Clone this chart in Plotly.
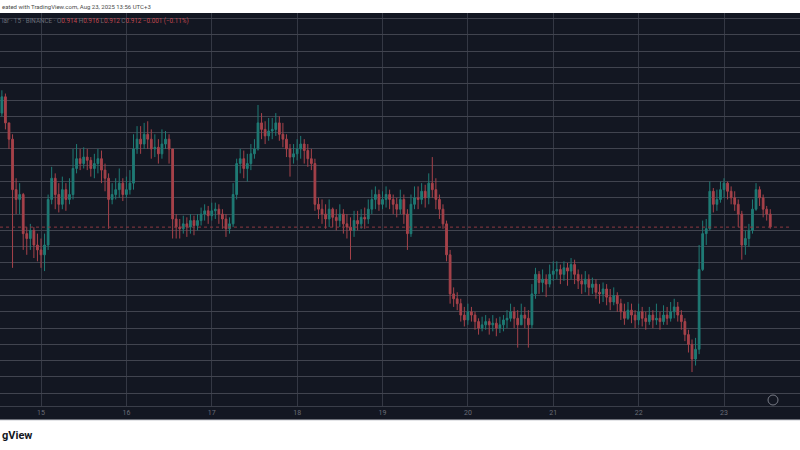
import pandas as pd
import plotly.graph_objects as go

# Hourly candles, Aug 14 13:00 -> Aug 23 13:00 (UTC+3)
first_open = 0.982
closes = [
    0.992, 0.976, 0.966, 0.935, 0.929, 0.932, 0.908, 0.905, 0.910, 0.901,
    0.898, 0.895, 0.901, 0.929, 0.942, 0.932, 0.926, 0.935, 0.929, 0.932,
    0.948, 0.954, 0.951, 0.955, 0.953, 0.948, 0.951, 0.954, 0.947, 0.942,
    0.929, 0.932, 0.935, 0.939, 0.932, 0.935, 0.939, 0.960, 0.966, 0.963,
    0.969, 0.966, 0.960, 0.961, 0.957, 0.963, 0.966, 0.960, 0.917, 0.912,
    0.911, 0.914, 0.912, 0.916, 0.913, 0.916, 0.920, 0.922, 0.919, 0.922,
    0.923, 0.920, 0.917, 0.911, 0.914, 0.932, 0.951, 0.954, 0.948, 0.951,
    0.957, 0.960, 0.976, 0.972, 0.968, 0.971, 0.972, 0.976, 0.969, 0.966,
    0.960, 0.955, 0.957, 0.960, 0.963, 0.959, 0.954, 0.951, 0.926, 0.923,
    0.920, 0.917, 0.923, 0.918, 0.916, 0.920, 0.914, 0.912, 0.910, 0.916,
    0.914, 0.918, 0.917, 0.923, 0.929, 0.932, 0.926, 0.929, 0.932, 0.929,
    0.926, 0.923, 0.929, 0.920, 0.908, 0.926, 0.930, 0.929, 0.934, 0.930,
    0.939, 0.935, 0.929, 0.923, 0.914, 0.895, 0.871, 0.868, 0.865, 0.858,
    0.855, 0.860, 0.858, 0.854, 0.850, 0.852, 0.854, 0.852, 0.853, 0.850,
    0.852, 0.855, 0.856, 0.860, 0.856, 0.852, 0.858, 0.856, 0.852, 0.871,
    0.883, 0.878, 0.880, 0.877, 0.883, 0.885, 0.886, 0.883, 0.887, 0.885,
    0.889, 0.883, 0.879, 0.877, 0.880, 0.875, 0.877, 0.872, 0.871, 0.874,
    0.869, 0.866, 0.870, 0.865, 0.860, 0.856, 0.861, 0.858, 0.855, 0.860,
    0.856, 0.854, 0.858, 0.855, 0.856, 0.854, 0.858, 0.856, 0.860, 0.863,
    0.858, 0.854, 0.846, 0.840, 0.831, 0.837, 0.886, 0.908, 0.911, 0.934,
    0.926, 0.929, 0.935, 0.939, 0.934, 0.930, 0.926, 0.920, 0.901, 0.905,
    0.910, 0.923, 0.935, 0.930, 0.923, 0.920, 0.912,
]
highs = [
    0.996, 0.994, 0.976, 0.969, 0.942, 0.939, 0.933, 0.912, 0.914, 0.912,
    0.908, 0.905, 0.908, 0.932, 0.949, 0.945, 0.939, 0.943, 0.939, 0.942,
    0.960, 0.963, 0.960, 0.961, 0.960, 0.955, 0.957, 0.960, 0.959, 0.951,
    0.945, 0.939, 0.942, 0.948, 0.942, 0.943, 0.947, 0.969, 0.974, 0.974,
    0.976, 0.977, 0.972, 0.969, 0.966, 0.972, 0.971, 0.969, 0.960, 0.920,
    0.917, 0.919, 0.918, 0.920, 0.919, 0.920, 0.924, 0.926, 0.925, 0.927,
    0.927, 0.926, 0.923, 0.920, 0.918, 0.939, 0.954, 0.960, 0.959, 0.957,
    0.963, 0.966, 0.987, 0.982, 0.977, 0.979, 0.979, 0.982, 0.980, 0.976,
    0.969, 0.963, 0.963, 0.966, 0.968, 0.966, 0.963, 0.960, 0.954, 0.930,
    0.929, 0.926, 0.929, 0.924, 0.923, 0.926, 0.923, 0.920, 0.918, 0.922,
    0.922, 0.923, 0.924, 0.929, 0.935, 0.937, 0.935, 0.934, 0.937, 0.935,
    0.932, 0.930, 0.935, 0.932, 0.923, 0.932, 0.937, 0.937, 0.939, 0.938,
    0.945, 0.955, 0.942, 0.932, 0.926, 0.916, 0.898, 0.875, 0.872, 0.868,
    0.863, 0.865, 0.863, 0.860, 0.856, 0.857, 0.858, 0.856, 0.858, 0.856,
    0.857, 0.858, 0.861, 0.865, 0.863, 0.861, 0.865, 0.863, 0.861, 0.877,
    0.887, 0.885, 0.886, 0.883, 0.889, 0.891, 0.891, 0.889, 0.891, 0.890,
    0.893, 0.892, 0.886, 0.883, 0.885, 0.883, 0.881, 0.880, 0.877, 0.878,
    0.877, 0.874, 0.875, 0.872, 0.868, 0.865, 0.866, 0.865, 0.861, 0.865,
    0.863, 0.860, 0.863, 0.861, 0.865, 0.860, 0.864, 0.863, 0.866, 0.868,
    0.866, 0.861, 0.856, 0.849, 0.843, 0.844, 0.901, 0.916, 0.917, 0.940,
    0.936, 0.935, 0.940, 0.942, 0.940, 0.937, 0.934, 0.929, 0.922, 0.910,
    0.914, 0.929, 0.939, 0.937, 0.932, 0.925, 0.923,
]
lows = [
    0.980, 0.972, 0.960, 0.887, 0.920, 0.920, 0.898, 0.895, 0.898, 0.893,
    0.891, 0.887, 0.885, 0.898, 0.926, 0.923, 0.921, 0.923, 0.922, 0.926,
    0.929, 0.945, 0.947, 0.948, 0.947, 0.943, 0.942, 0.945, 0.939, 0.934,
    0.911, 0.926, 0.929, 0.930, 0.928, 0.930, 0.932, 0.935, 0.957, 0.957,
    0.960, 0.960, 0.954, 0.955, 0.951, 0.954, 0.960, 0.951, 0.905, 0.905,
    0.905, 0.908, 0.906, 0.908, 0.907, 0.910, 0.913, 0.916, 0.914, 0.916,
    0.917, 0.914, 0.911, 0.906, 0.908, 0.912, 0.929, 0.945, 0.942, 0.940,
    0.947, 0.954, 0.959, 0.966, 0.963, 0.965, 0.966, 0.968, 0.965, 0.961,
    0.955, 0.943, 0.951, 0.953, 0.954, 0.951, 0.949, 0.947, 0.922, 0.917,
    0.914, 0.911, 0.912, 0.912, 0.910, 0.912, 0.908, 0.905, 0.892, 0.906,
    0.910, 0.911, 0.911, 0.914, 0.920, 0.923, 0.922, 0.923, 0.924, 0.923,
    0.920, 0.918, 0.920, 0.914, 0.898, 0.906, 0.923, 0.923, 0.926, 0.924,
    0.926, 0.930, 0.923, 0.917, 0.911, 0.891, 0.865, 0.863, 0.861, 0.854,
    0.851, 0.852, 0.854, 0.849, 0.846, 0.848, 0.849, 0.846, 0.848, 0.845,
    0.847, 0.848, 0.850, 0.854, 0.850, 0.838, 0.852, 0.850, 0.838, 0.850,
    0.868, 0.871, 0.872, 0.869, 0.875, 0.879, 0.880, 0.877, 0.879, 0.876,
    0.880, 0.877, 0.874, 0.871, 0.872, 0.870, 0.871, 0.868, 0.865, 0.866,
    0.864, 0.861, 0.864, 0.860, 0.855, 0.852, 0.855, 0.853, 0.850, 0.852,
    0.851, 0.849, 0.852, 0.850, 0.852, 0.849, 0.852, 0.852, 0.854, 0.856,
    0.854, 0.849, 0.842, 0.835, 0.823, 0.827, 0.834, 0.885, 0.901, 0.910,
    0.921, 0.922, 0.927, 0.930, 0.929, 0.926, 0.922, 0.912, 0.892, 0.895,
    0.900, 0.908, 0.922, 0.925, 0.918, 0.916, 0.911,
]
opens = [first_open] + closes[:-1]
times = pd.date_range("2025-08-14 13:00", periods=len(closes), freq="h")

day_ticks = ["2025-08-%02d" % d for d in range(15, 24)]
day_labels = ["15", "16", "17", "18", "19", "20", "21", "22", "23"]

legend_ohlc = ["0.914", "0.916", "0.912", "0.912"]
legend_change = "−0.001 (−0.11%)"

BG = "#131722"
UP = "#1f7b75"
DOWN = "#a6424a"
GRID_H = "#41444f"
GRID_V = "#343844"

fig = go.Figure(go.Candlestick(
    x=times, open=opens, high=highs, low=lows, close=closes,
    increasing=dict(line=dict(color=UP, width=1), fillcolor=UP),
    decreasing=dict(line=dict(color=DOWN, width=1), fillcolor=DOWN),
    whiskerwidth=0, hoverinfo="skip", showlegend=False,
))

PH = 393.0  # plot height in px

def py(px):
    return (406.0 - px) / PH

red = "#c2474f"
legend_txt = (
    "lar · 15 · BINANCE · O<span style='color:%s'>%s</span> H<span style='color:%s'>%s</span> "
    "L<span style='color:%s'>%s</span> C<span style='color:%s'>%s %s</span>"
    % (red, legend_ohlc[0], red, legend_ohlc[1], red, legend_ohlc[2], red, legend_ohlc[3], legend_change)
)

fig.update_layout(
    width=800, height=450,
    margin=dict(l=0, r=0, t=13, b=44),
    paper_bgcolor=BG, plot_bgcolor=BG,
    showlegend=False,
    hovermode=False,
    font=dict(family="Roboto, sans-serif"),
    xaxis=dict(
        type="date",
        range=["2025-08-14 12:28:30", "2025-08-23 21:21:36"],
        rangeslider=dict(visible=False),
        tickvals=day_ticks, ticktext=day_labels,
        showgrid=True, gridcolor=GRID_V, gridwidth=1,
        ticks="", tickfont=dict(size=7, color="#6a6d78"),
        showline=True, linecolor="#3a3e49", linewidth=1,
        zeroline=False, fixedrange=True,
    ),
    yaxis=dict(
        range=[0.80217, 1.04346], dtick=0.01, tick0=0,
        showticklabels=False, showgrid=True, gridcolor=GRID_H, gridwidth=1,
        zeroline=False, ticks="", fixedrange=True,
    ),
    shapes=[
        dict(type="line", xref="paper", x0=0, x1=0.99, yref="y",
             y0=closes[-1], y1=closes[-1],
             line=dict(color="#8f3a42", width=1, dash="dot"), layer="above"),
        dict(type="rect", xref="paper", x0=0, x1=1, yref="paper",
             y0=py(13), y1=py(-2), fillcolor="white", line=dict(width=0), layer="above"),
        dict(type="rect", xref="paper", x0=0, x1=1, yref="paper",
             y0=py(452), y1=py(420), fillcolor="white", line=dict(width=0), layer="above"),
        dict(type="line", xref="paper", x0=0, x1=1, yref="paper",
             y0=py(420), y1=py(420), line=dict(color="#c9cbd1", width=1), layer="above"),
        dict(type="circle", xref="paper", yref="paper",
             x0=768 / 800, x1=778 / 800, y0=py(405), y1=py(395),
             line=dict(color="#787b86", width=1), layer="above"),
    ],
    annotations=[
        dict(xref="paper", yref="paper", x=0, y=py(6), xanchor="left", yanchor="middle",
             text="eated with TradingView.com, Aug 23, 2025 13:56 UTC+3",
             showarrow=False, font=dict(size=6, color="#4a4a4a")),
        dict(xref="paper", yref="paper", x=0, y=py(21), xanchor="left", yanchor="middle",
             text=legend_txt, showarrow=False, font=dict(size=6.3, color="#6a6d78")),
        dict(xref="paper", yref="paper", x=0, y=py(435), xanchor="left", yanchor="middle",
             text="<b>gView</b>", showarrow=False, font=dict(size=11, color="#131722")),
    ],
)

fig.write_html("out.html", config={"displayModeBar": False, "staticPlot": True},
               post_script="document.body.style.margin='0';")
